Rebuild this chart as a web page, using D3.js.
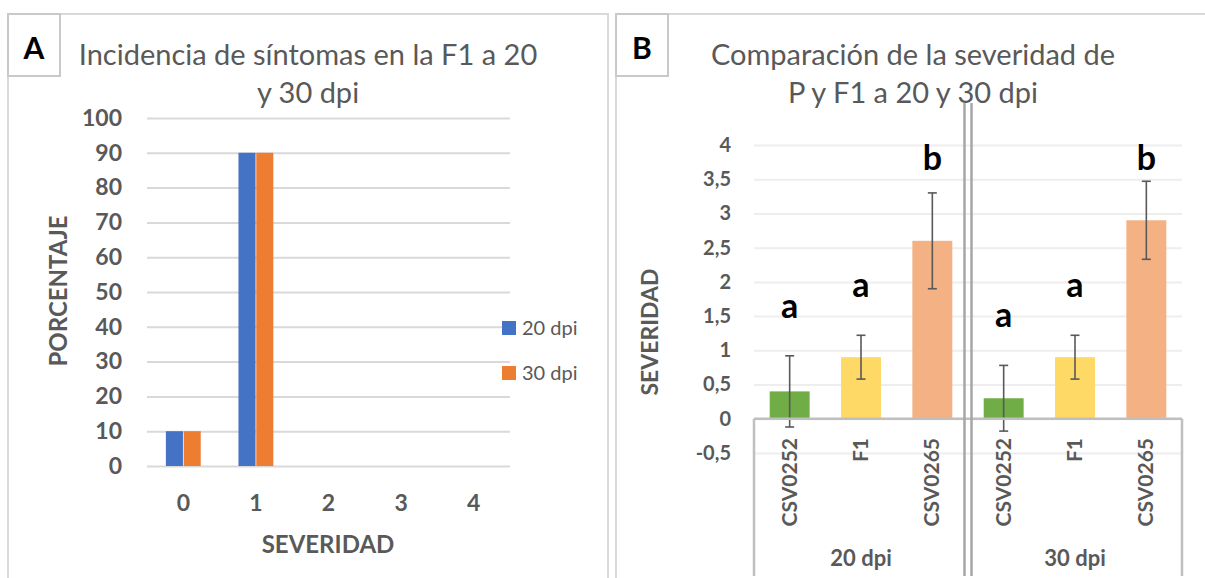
<!DOCTYPE html>
<html>
<head>
<meta charset="utf-8">
<script src="https://cdn.jsdelivr.net/npm/d3@7"></script>
<style>
  body { margin: 0; background: #fff; }
  svg { display: block; font-family: Lato, "Open Sans", sans-serif; }
</style>
</head>
<body>
<div id="chart"></div>
<script>
// ---- panel A data
const severityCats = ["0", "1", "2", "3", "4"];
const seriesNames = ["20 dpi", "30 dpi"];
const incidence20 = [10, 90, 0, 0, 0];
const incidence30 = [10, 90, 0, 0, 0];
const yTicksA = [0, 10, 20, 30, 40, 50, 60, 70, 80, 90, 100];

// ---- panel B data
const genotypes = ["CSV0252", "F1", "CSV0265"];
const dpiGroups = ["20 dpi", "30 dpi"];
const severity20 = [0.4, 0.9, 2.6];
const severity30 = [0.3, 0.9, 2.9];
const errors20 = [0.52, 0.32, 0.7];
const errors30 = [0.48, 0.32, 0.57];
const letters20 = ["a", "a", "b"];
const letters30 = ["a", "a", "b"];
const letterPos20 = [1.47, 1.78, 3.63];
const letterPos30 = [1.34, 1.78, 3.63];
const yTicksB = [-0.5, 0, 0.5, 1, 1.5, 2, 2.5, 3, 3.5, 4];

const gray = "#595959";
const gridColor = "#d9d9d9";

const svg = d3.select("#chart").append("svg")
  .attr("width", 1205).attr("height", 578);

// panel frames + letter boxes
function frame(x0, x1, label) {
  svg.append("path")
    .attr("d", `M${x0},600 L${x0},14 L${x1},14 L${x1},600`)
    .attr("fill", "none").attr("stroke", gridColor).attr("stroke-width", 2);
  svg.append("rect")
    .attr("x", x0).attr("y", 14).attr("width", 52).attr("height", 62)
    .attr("fill", "#fff").attr("stroke", "#c9c9c9").attr("stroke-width", 2);
  svg.append("text")
    .attr("x", x0 + 26).attr("y", 59)
    .attr("text-anchor", "middle")
    .style("font-size", "30px").style("font-weight", 700)
    .text(label);
}
frame(8, 608, "A");
frame(616, 1215, "B");

function title(cx, lines) {
  lines.forEach((t, i) => {
    svg.append("text")
      .attr("x", cx).attr("y", 65 + i * 38)
      .attr("text-anchor", "middle")
      .attr("fill", gray)
      .style("font-size", "29px").style("font-weight", 400)
      .text(t);
  });
}
title(308, ["Incidencia de síntomas en la F1 a 20", "y 30 dpi"]);
title(913, ["Comparación de la severidad de", "P y F1 a 20 y 30 dpi"]);

// ================= panel A
const xA = d3.scaleBand().domain(severityCats).range([147, 510])
  .paddingInner(0.52).paddingOuter(0.26);
const xA2 = d3.scaleBand().domain(seriesNames).range([0, xA.bandwidth()]).paddingInner(0.04);
const yA = d3.scaleLinear().domain([0, 100]).range([466, 118]);
const colorA = d3.scaleOrdinal().domain(seriesNames).range(["#4472c4", "#ed7d31"]);

const gA = svg.append("g");
gA.append("g")
  .attr("transform", "translate(147,0)")
  .call(d3.axisLeft(yA).tickValues(yTicksA).tickSize(-(510 - 147)).tickFormat(""))
  .call(g => g.select(".domain").remove())
  .call(g => g.selectAll("line").attr("stroke", gridColor).attr("stroke-width", 2));

gA.append("g")
  .attr("transform", "translate(122,0)")
  .call(d3.axisLeft(yA).tickValues(yTicksA).tickSize(0).tickPadding(0))
  .call(g => g.select(".domain").remove())
  .call(g => g.selectAll("text").attr("fill", gray)
    .style("font-size", "23px").style("font-weight", 700).style("font-family", "Lato, sans-serif"));

const rowsA = severityCats.map((c, i) => ({ cat: c, values: [incidence20[i], incidence30[i]] }));
gA.selectAll("g.cat").data(rowsA).join("g")
  .attr("class", "cat")
  .attr("transform", d => `translate(${xA(d.cat)},0)`)
  .selectAll("rect")
  .data(d => d.values.map((v, j) => ({ s: seriesNames[j], v })))
  .join("rect")
  .attr("x", d => xA2(d.s))
  .attr("width", xA2.bandwidth())
  .attr("y", d => yA(d.v))
  .attr("height", d => yA(0) - yA(d.v))
  .attr("fill", d => colorA(d.s));

gA.append("g")
  .attr("transform", "translate(0,495)")
  .call(d3.axisBottom(xA).tickSize(0).tickPadding(0))
  .call(g => g.select(".domain").remove())
  .call(g => g.selectAll("text").attr("fill", gray).attr("dy", "0.71em")
    .style("font-size", "23px").style("font-weight", 700).style("font-family", "Lato, sans-serif"));

gA.append("text")
  .attr("x", 328).attr("y", 553)
  .attr("text-anchor", "middle").attr("fill", gray)
  .style("font-size", "24px").style("font-weight", 700)
  .text("SEVERIDAD");

gA.append("text")
  .attr("transform", "translate(67,291) rotate(-90)")
  .attr("text-anchor", "middle").attr("fill", gray)
  .style("font-size", "24px").style("font-weight", 700)
  .text("PORCENTAJE");

// legend
seriesNames.forEach((s, i) => {
  const ly = 321 + i * 45;
  gA.append("rect").attr("x", 502).attr("y", ly).attr("width", 14).attr("height", 14)
    .attr("fill", colorA(s));
  gA.append("text").attr("x", 522).attr("y", ly + 7).attr("dy", "0.35em")
    .attr("fill", gray).style("font-size", "20px").style("font-weight", 400)
    .text(s);
});

// ================= panel B
const keysB = [];
dpiGroups.forEach(g => genotypes.forEach(t => keysB.push(g + "|" + t)));
const rowsB = [];
dpiGroups.forEach((g, gi) => genotypes.forEach((t, i) => {
  rowsB.push({
    key: g + "|" + t, group: g, geno: t, idx: i,
    v: gi === 0 ? severity20[i] : severity30[i],
    e: gi === 0 ? errors20[i] : errors30[i],
    letter: gi === 0 ? letters20[i] : letters30[i],
    lpos: gi === 0 ? letterPos20[i] : letterPos30[i]
  });
}));

const xB = d3.scaleBand().domain(keysB).range([754, 1182])
  .paddingInner(0.44).paddingOuter(0.22);
const yB = d3.scaleLinear().domain([-0.5, 4]).range([453, 145]);
const colorB = d3.scaleOrdinal().domain(genotypes).range(["#70ad47", "#ffd966", "#f4b183"]);

const gB = svg.append("g");
gB.append("g")
  .attr("transform", "translate(754,0)")
  .call(d3.axisLeft(yB).tickValues(yTicksB).tickSize(-(1182 - 754)).tickFormat(""))
  .call(g => g.select(".domain").remove())
  .call(g => g.selectAll("line").attr("stroke", "#eeeeee").attr("stroke-width", 2));

gB.append("g")
  .attr("transform", "translate(731,0)")
  .call(d3.axisLeft(yB).tickValues(yTicksB).tickSize(0).tickPadding(0)
    .tickFormat(d => String(d).replace(".", ",")))
  .call(g => g.select(".domain").remove())
  .call(g => g.selectAll("text").attr("fill", gray)
    .style("font-size", "20px").style("font-weight", 700).style("font-family", "Lato, sans-serif"));

gB.selectAll("rect.bar").data(rowsB).join("rect")
  .attr("class", "bar")
  .attr("x", d => xB(d.key))
  .attr("width", xB.bandwidth())
  .attr("y", d => yB(d.v))
  .attr("height", d => yB(0) - yB(d.v))
  .attr("fill", d => colorB(d.geno));

// error bars
const eb = gB.selectAll("g.err").data(rowsB).join("g")
  .attr("class", "err")
  .attr("transform", d => `translate(${xB(d.key) + xB.bandwidth() / 2},0)`)
  .attr("stroke", gray).attr("stroke-width", 1.6);
eb.append("line").attr("y1", d => yB(d.v + d.e)).attr("y2", d => yB(d.v - d.e));
eb.append("line").attr("x1", -4.5).attr("x2", 4.5)
  .attr("y1", d => yB(d.v + d.e)).attr("y2", d => yB(d.v + d.e));
eb.append("line").attr("x1", -4.5).attr("x2", 4.5)
  .attr("y1", d => yB(d.v - d.e)).attr("y2", d => yB(d.v - d.e));

// significance letters
gB.selectAll("text.sig").data(rowsB).join("text")
  .attr("class", "sig")
  .attr("x", d => xB(d.key) + xB.bandwidth() / 2)
  .attr("y", d => yB(d.lpos))
  .attr("text-anchor", "middle")
  .style("font-size", "34px").style("font-weight", 700)
  .text(d => d.letter);

// category axis: zero line, box lines
gB.append("line").attr("x1", 754).attr("x2", 1182).attr("y1", yB(0)).attr("y2", yB(0))
  .attr("stroke", "#bfbfbf").attr("stroke-width", 2.5);
[754, 1182].forEach(x => {
  gB.append("line").attr("x1", x).attr("x2", x).attr("y1", yB(0)).attr("y2", 576)
    .attr("stroke", "#bfbfbf").attr("stroke-width", 2.5);
});
const sepX = (xB(keysB[2]) + xB.bandwidth() + xB(keysB[3])) / 2;
[-3.5, 3.5].forEach(off => {
  gB.append("line").attr("x1", sepX + off).attr("x2", sepX + off).attr("y1", 103).attr("y2", 576)
    .attr("stroke", "#a6a6a6").attr("stroke-width", 2.5);
});

gB.selectAll("text.cat").data(rowsB).join("text")
  .attr("class", "cat")
  .attr("transform", d => `translate(${xB(d.key) + xB.bandwidth() / 2 + 7},438) rotate(-90)`)
  .attr("text-anchor", "end").attr("fill", gray)
  .style("font-size", "21px").style("font-weight", 700)
  .text(d => d.geno);

dpiGroups.forEach(g => {
  const x0 = xB(g + "|" + genotypes[0]);
  const x1 = xB(g + "|" + genotypes[2]) + xB.bandwidth();
  gB.append("text").attr("x", (x0 + x1) / 2).attr("y", 566)
    .attr("text-anchor", "middle").attr("fill", gray)
    .style("font-size", "22px").style("font-weight", 700)
    .text(g);
});

gB.append("text")
  .attr("transform", "translate(658,332) rotate(-90)")
  .attr("text-anchor", "middle").attr("fill", gray)
  .style("font-size", "23px").style("font-weight", 700)
  .text("SEVERIDAD");
</script>
</body>
</html>
